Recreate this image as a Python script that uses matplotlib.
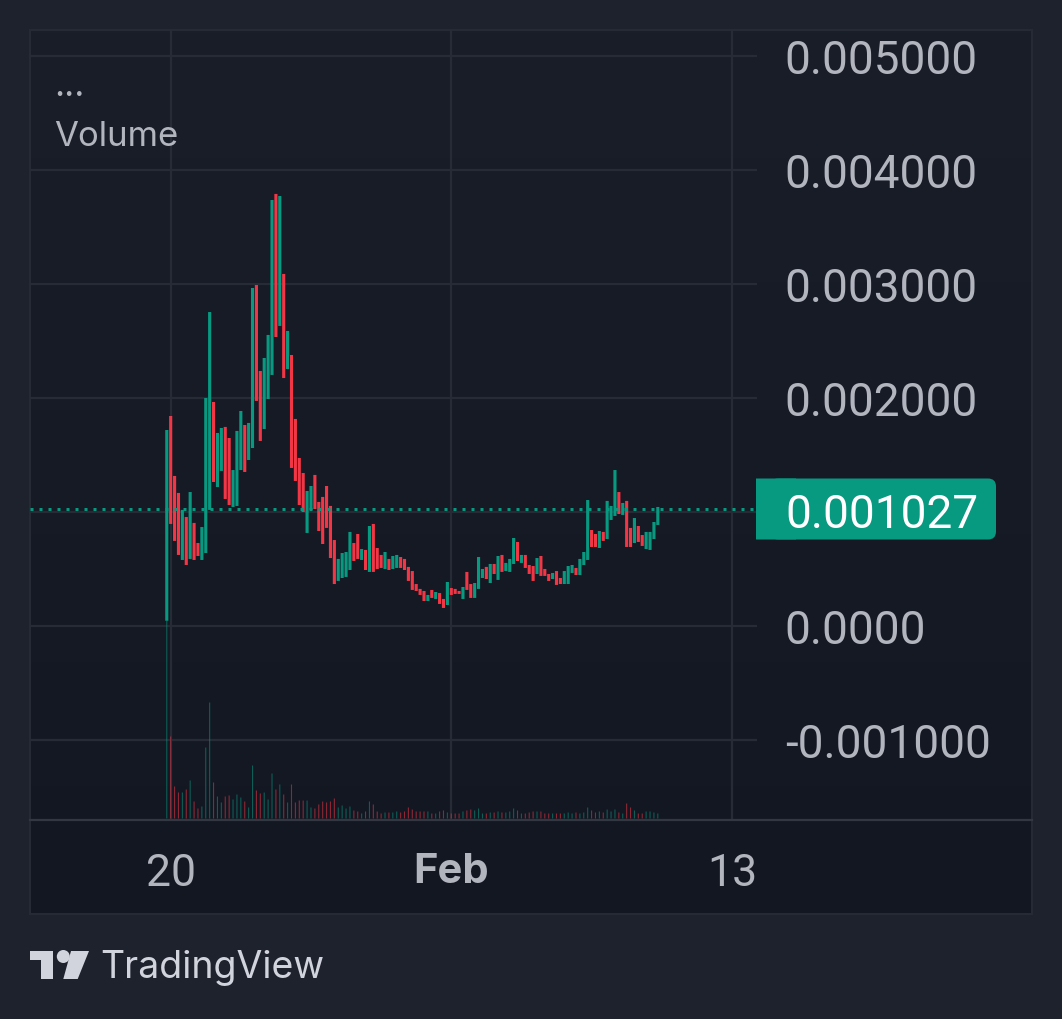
import numpy as np
import matplotlib
matplotlib.use('Agg')
import matplotlib.pyplot as plt
from matplotlib.lines import Line2D
from matplotlib.patches import Circle, FancyBboxPatch, Polygon, Rectangle
from matplotlib.transforms import IdentityTransform

plt.rcParams['font.family'] = ['Inter', 'DejaVu Sans']

# candle bodies, in millionths of the quote price
body_high = [1719, 1842, 1316, 1167, 1018, 956, 1175, 904, 728, 868,
             2000, 2754, 1965, 1693, 1737, 1746, 1649, 1368, 1711, 1886,
             1763, 1781, 2965, 2991, 2237, 2351, 2553, 3737, 3790, 3772,
             3088, 2588, 2377, 1816, 1474, 1342, 1184, 1228, 1325, 1088,
             1132, 1228, 1053, 754, 588, 640, 649, 825, 728, 807,
             675, 667, 877, 895, 684, 623, 649, 588, 614, 623,
             605, 588, 518, 482, 368, 325, 307, 272, 316, 298,
             289, 237, 386, 333, 325, 307, 342, 474, 368, 377,
             605, 500, 518, 544, 544, 614, 623, 553, 588, 772,
             737, 623, 623, 535, 526, 596, 614, 500, 456, 465,
             482, 421, 482, 526, 535, 509, 588, 649, 1105, 842,
             807, 833, 825, 1097, 1053, 1368, 1175, 1079, 1097, 860,
             947, 877, 798, 825, 825, 912, 1044]
body_low = [46, 895, 746, 623, 579, 535, 588, 579, 614, 579,
            640, 1018, 1263, 1219, 1360, 1114, 1061, 1044, 1053, 1368,
            1351, 1456, 1561, 1974, 1623, 1728, 1991, 2202, 2535, 2632,
            2175, 2254, 1386, 1272, 1061, 1000, 816, 1018, 1026, 833,
            719, 860, 596, 368, 395, 421, 430, 491, 570, 588,
            579, 491, 474, 474, 500, 509, 500, 491, 500, 509,
            509, 491, 395, 316, 307, 272, 219, 219, 246, 237,
            193, 158, 184, 272, 281, 281, 237, 316, 246, 246,
            325, 421, 412, 377, 456, 404, 474, 482, 474, 544,
            570, 553, 509, 456, 395, 456, 439, 439, 395, 412,
            360, 368, 368, 368, 465, 447, 447, 535, 579, 693,
            693, 684, 746, 763, 930, 965, 982, 974, 693, 693,
            728, 737, 702, 675, 667, 763, 886]
candle_up = [1, 0, 0, 0, 1, 0, 1, 0, 0, 1,
             1, 1, 0, 1, 1, 0, 0, 1, 1, 1,
             0, 1, 1, 0, 0, 1, 1, 1, 0, 1,
             0, 1, 0, 0, 0, 0, 1, 1, 0, 0,
             0, 0, 0, 0, 1, 1, 1, 1, 0, 0,
             1, 0, 1, 0, 0, 0, 1, 0, 1, 1,
             0, 0, 0, 0, 0, 0, 0, 1, 0, 1,
             0, 0, 1, 0, 0, 0, 1, 0, 0, 1,
             1, 1, 0, 1, 0, 1, 0, 1, 1, 1,
             0, 1, 0, 0, 0, 1, 0, 0, 0, 1,
             0, 0, 1, 1, 1, 0, 1, 1, 1, 0,
             0, 1, 0, 1, 1, 1, 0, 1, 0, 0,
             1, 0, 0, 1, 1, 1, 1]
volume = [198, 82, 32, 26, 26, 29, 38, 17, 10, 12,
          71, 116, 36, 22, 16, 22, 23, 19, 24, 21,
          17, 11, 53, 28, 25, 26, 19, 45, 29, 34,
          24, 16, 34, 16, 18, 18, 18, 11, 10, 14,
          17, 16, 17, 20, 11, 13, 10, 12, 8, 7,
          5, 7, 17, 14, 7, 5, 6, 6, 6, 7,
          6, 7, 11, 9, 7, 7, 7, 7, 5, 5,
          7, 8, 6, 5, 5, 5, 7, 8, 9, 8,
          10, 5, 5, 6, 6, 7, 6, 6, 7, 10,
          8, 5, 5, 6, 7, 7, 7, 5, 5, 5,
          5, 5, 5, 6, 5, 6, 5, 6, 11, 8,
          6, 7, 6, 9, 7, 9, 6, 5, 15, 11,
          8, 5, 5, 7, 7, 6, 5]

last_price = 0.001027
price_ticks = [0.005, 0.004, 0.003, 0.002, 0.001, 0.0, -0.001]
price_labels = ['0.005000', '0.004000', '0.003000', '0.002000', '', '0.0000', '-0.001000']
# candles are 4h apart, the first one is Jan 19 20:00
time_ticks = [1, 73, 145]
time_labels = ['20', 'Feb', '13']

GREEN = '#089981'
RED = '#f23645'
GRID = '#272b36'
TEXT = '#b2b5be'
W, H = 1062, 1020


def fig_box(x0, y0, x1, y1):
    # pixel box measured from the top left -> figure fractions
    return [x0 / W, 1 - y1 / H, (x1 - x0) / W, (y1 - y0) / H]


fig = plt.figure(figsize=(W / 100, H / 100), dpi=100, facecolor='#1e222d')

# panel with the faint vertical gradient
ax_bg = fig.add_axes(fig_box(30, 31, 1032, 915))
ax_bg.imshow(np.linspace(0, 1, 256).reshape(-1, 1), aspect='auto', cmap=matplotlib.colors.LinearSegmentedColormap.from_list('panel', ['#1a1e29', '#131722']))
ax_bg.set_xticks([])
ax_bg.set_yticks([])
for spine in ax_bg.spines.values():
    spine.set_color(GRID)
    spine.set_linewidth(1.4)

ax = fig.add_axes(fig_box(30, 31, 757, 821))
ax.patch.set_alpha(0)
x = np.arange(len(body_high))
high = np.array(body_high) * 1e-6
low = np.array(body_low) * 1e-6
colors = [GREEN if up else RED for up in candle_up]
# no snapping, otherwise the bodies come out with uneven widths
ax.bar(x, high - low, bottom=low, width=0.8, color=colors, zorder=3, snap=False)

ax.axhline(last_price, color=GREEN, lw=2.16, ls=(0, (1, 2)), dash_capstyle='butt', zorder=4)

ax.set_xlim(-35.1, 151.45)
ax.set_ylim(-0.001702, 0.005228)
ax.set_xticks(time_ticks)
ax.set_xticklabels(time_labels)
ax.tick_params(axis='x', length=0, pad=23, labelsize=32, labelcolor=TEXT)
for lab in ax.get_xticklabels():
    lab.set_fontfamily(['Roboto', 'DejaVu Sans'])
feb = ax.get_xticklabels()[1]
feb.set_fontfamily(['Inter', 'DejaVu Sans'])
feb.set_fontweight('bold')
feb.set_fontsize(30)
ax.grid(True, color=GRID, lw=1.6, zorder=1)
ax.set_axisbelow(True)
for spine in ax.spines.values():
    spine.set_visible(False)

# volume pane has its own scale, sits on the bottom of the plot
ax_vol = ax.twinx()
ax_vol.set_ylim(-1.5, 788.5)
ax_vol.bar(x, volume, width=0.28, color=colors, alpha=0.55, zorder=2, snap=False)
ax_vol.axis('off')

# twinx moves the ticks back to the left, so set the price axis up afterwards
ax.yaxis.tick_right()
ax.set_yticks(price_ticks)
ax.set_yticklabels(price_labels)
ax.tick_params(axis='y', length=0, pad=20, labelsize=33, labelcolor=TEXT)
for lab in ax.get_yticklabels():
    lab.set_fontfamily(['Roboto', 'DejaVu Sans'])

# time axis line
fig.add_artist(Line2D([30 / W, 1032 / W], [1 - 821 / H, 1 - 821 / H], color='#333742', lw=1.6))

# last price tag, square on the left and rounded on the right
tag_y = round(ax.transData.transform((0, last_price))[1])
tag_h = 61
pix = IdentityTransform()
fig.add_artist(FancyBboxPatch((770, tag_y - tag_h / 2), 226, tag_h, boxstyle='round,pad=0,rounding_size=8',
                              fc=GREEN, ec='none', transform=pix, snap=False))
fig.add_artist(Rectangle((756, tag_y - tag_h / 2), 40, tag_h, fc=GREEN, ec='none', transform=pix, snap=False))
fig.text(785 / W, tag_y / H, f'{last_price:.6f}', color='white', fontsize=33, va='center_baseline', ha='left',
         family=['Roboto', 'DejaVu Sans'])

# legend
fig.text(54 / W, 1 - 96 / H, '...', color=TEXT, fontsize=25, va='baseline')
fig.text(54 / W, 1 - 146 / H, 'Volume', color=TEXT, fontsize=25, va='baseline')

# TradingView mark
logo = '#d1d4dc'
fig.add_artist(Polygon([(30 / W, 1 - 952 / H), (53 / W, 1 - 952 / H), (53 / W, 1 - 980 / H), (41 / W, 1 - 980 / H),
                        (41 / W, 1 - 961 / H), (30 / W, 1 - 961 / H)], closed=True, fc=logo, ec='none', transform=fig.transFigure))
fig.add_artist(Circle((63.3, H - 957.5), 6.5, fc=logo, ec='none', transform=pix))
fig.add_artist(Polygon([(71 / W, 1 - 952 / H), (89 / W, 1 - 952 / H), (77.7 / W, 1 - 980 / H), (63.3 / W, 1 - 980 / H)],
                       closed=True, fc=logo, ec='none', transform=fig.transFigure))
fig.text(100 / W, 1 - 978 / H, 'TradingView', color=logo, fontsize=27, va='baseline')

fig.savefig('out.png', dpi=100, facecolor=fig.get_facecolor())
